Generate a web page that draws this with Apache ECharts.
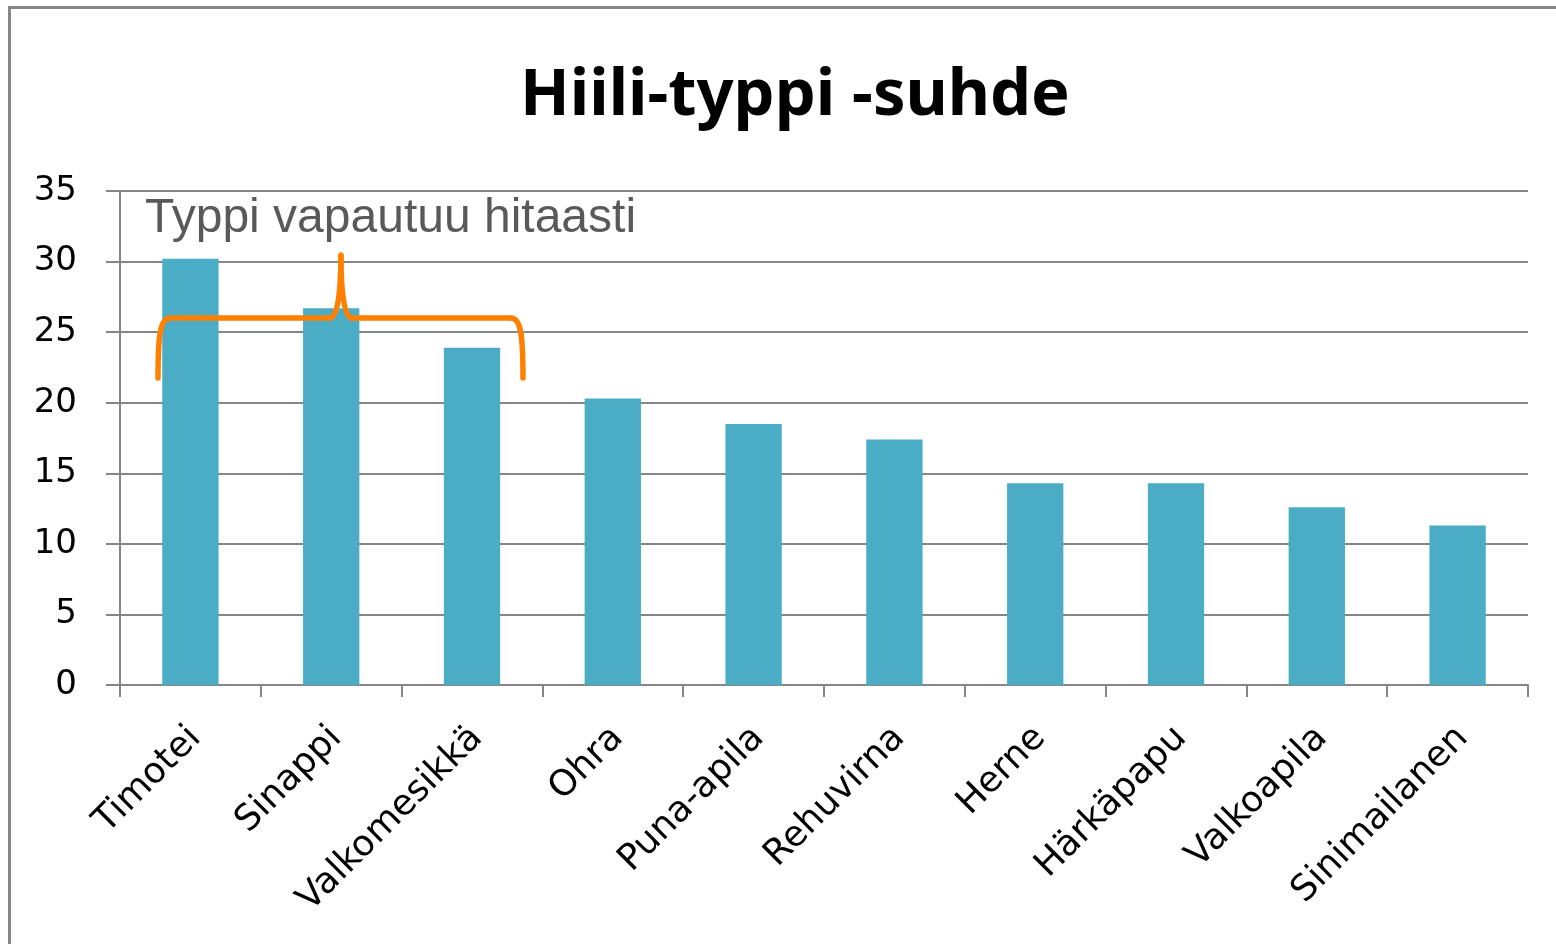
<!DOCTYPE html>
<html>
<head>
<meta charset="utf-8">
<script src="https://cdn.jsdelivr.net/npm/echarts@6/dist/echarts.min.js"></script>
<style>
  html, body { margin: 0; padding: 0; background: #fff; }
  #frame {
    position: absolute; left: 8px; top: 6px; width: 1560px; height: 960px;
    border-left: 3px solid #878787; border-top: 3px solid #878787;
  }
  #chart { position: absolute; left: 0; top: 0; width: 1556px; height: 944px; }
</style>
</head>
<body>
<div id="frame"></div>
<div id="chart"></div>
<script>
// kasvit ja C/N-suhde
const categories = ["Timotei", "Sinappi", "Valkomesikkä", "Ohra", "Puna-apila",
  "Rehuvirna", "Herne", "Härkäpapu", "Valkoapila", "Sinimailanen"];
const cnRatio = [30.2, 26.7, 23.9, 20.3, 18.5, 17.4, 14.3, 14.3, 12.6, 11.3];
const yTicks = [0, 5, 10, 15, 20, 25, 30, 35];

let chart = echarts.init(document.getElementById("chart"));
const grey = "#868686";

let option = {
  animation: false,
  title: {
    text: "Hiili-typpi -suhde",
    top: 59,
    left: 790,
    textAlign: "center",
    textStyle: { fontFamily: "Noto Sans", fontWeight: "bold", fontSize: 65, color: "#000" },
  },
  grid: { left: 120, right: 28, top: 191, bottom: 259 },
  xAxis: {
    type: "category",
    data: categories,
    axisLine: { lineStyle: { color: grey, width: 2 } },
    axisTick: { show: true, length: 12, lineStyle: { color: grey, width: 2 } },
    axisLabel: {
      rotate: 45,
      margin: 27,
      align: "right",
      verticalAlign: "top",
      padding: [0, 11, 0, 0],
      fontFamily: "DejaVu Sans",
      fontSize: 36,
      color: "#000",
      interval: 0,
    },
  },
  yAxis: {
    type: "value",
    min: yTicks[0],
    max: yTicks[yTicks.length - 1],
    interval: 5,
    axisLine: { show: true, lineStyle: { color: grey, width: 2 } },
    axisTick: { show: true, length: 14, lineStyle: { color: grey, width: 2 } },
    splitLine: { lineStyle: { color: grey, width: 2 } },
    axisLabel: { margin: 43, fontFamily: "DejaVu Sans", fontSize: 34, color: "#000" },
  },
  series: [
    {
      type: "bar",
      data: cnRatio,
      barWidth: "40%",
      itemStyle: { color: "#4BACC6" },
    },
  ],
};
chart.setOption(option);

// aaltosulku + teksti, paikat datakoordinaateista
function px(cat, val) {
  const a = chart.convertToPixel({ gridIndex: 0 }, [0, val]);
  const b = chart.convertToPixel({ gridIndex: 0 }, [1, val]);
  return [a[0] + (b[0] - a[0]) * cat, a[1]];
}
const L = px(-0.23, 21.75), R = px(2.362, 21.75);
const peak = px(1.069, 30.45);
const yl = px(0, 26.0)[1];
const braceStyle = { stroke: "#FF8000", lineWidth: 5.5, fill: null, lineCap: "round", lineJoin: "round" };
function curve(x1, y1, cx1, cy1, cx2, cy2, x2, y2) {
  return {
    type: "bezierCurve", z: 100,
    shape: { x1: x1, y1: y1, cpx1: cx1, cpy1: cy1, cpx2: cx2, cpy2: cy2, x2: x2, y2: y2 },
    style: braceStyle,
  };
}
function seg(x1, y1, x2, y2) {
  return { type: "line", z: 100, shape: { x1: x1, y1: y1, x2: x2, y2: y2 }, style: braceStyle };
}
const px0 = peak[0];
const brace = [
  curve(L[0], L[1], L[0], yl + 18, L[0] + 2, yl, L[0] + 12, yl),
  seg(L[0] + 12, yl, px0 - 11, yl),
  curve(px0 - 11, yl, px0 - 3, yl, px0, yl - 28, px0, peak[1]),
  curve(px0, peak[1], px0, yl - 28, px0 + 3, yl, px0 + 11, yl),
  seg(px0 + 11, yl, R[0] - 12, yl),
  curve(R[0] - 12, yl, R[0] - 2, yl, R[0], yl + 18, R[0], R[1]),
];
const txt = px(-0.322, 33.0);
chart.setOption({
  graphic: brace.concat([
    {
      type: "text",
      x: txt[0],
      y: txt[1],
      z: 100,
      style: {
        text: "Typpi vapautuu hitaasti",
        font: "48px 'Liberation Sans'",
        fill: "#595959",
        verticalAlign: "middle",
      },
    },
  ]),
});
</script>
</body>
</html>
